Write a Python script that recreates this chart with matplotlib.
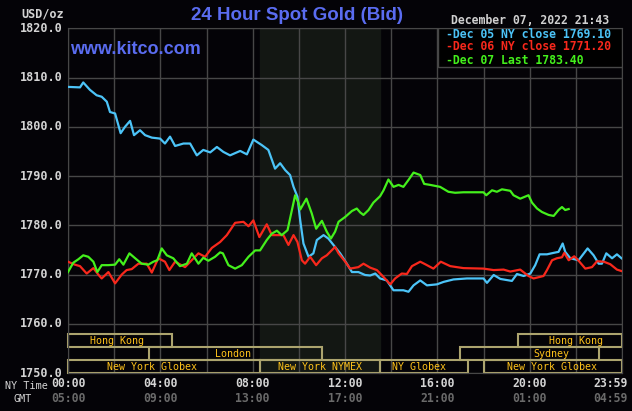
import matplotlib
matplotlib.use("Agg")
import matplotlib.pyplot as plt
import matplotlib.transforms as mtransforms
from matplotlib.patches import Rectangle

# hours after midnight (NY time) and bid prices
dec05_h = [0, 0.52, 0.66, 0.95, 1.24, 1.46, 1.68, 1.82, 2.04, 2.28, 2.47, 2.69, 2.86, 3.12, 3.34, 3.63,
           3.99, 4.2, 4.42, 4.64, 5.0, 5.29, 5.58, 5.86, 6.16, 6.45, 6.73, 7.02, 7.46, 7.75, 8.03, 8.39,
           8.68, 8.97, 9.19, 9.41, 9.62, 9.77, 9.94, 10.06, 10.2, 10.42, 10.63, 10.78, 11.07, 11.28, 11.5,
           11.79, 12.08, 12.3, 12.58, 12.87, 13.09, 13.31, 13.52, 13.81, 14.1, 14.32, 14.53, 14.75, 14.97,
           15.26, 15.55, 15.98, 16.27, 16.7, 17.28, 18.0, 18.15, 18.44, 18.73, 19.23, 19.45, 19.74, 20.03,
           20.24, 20.43, 20.75, 21.04, 21.25, 21.43, 21.54, 21.76, 22.12, 22.51, 22.77, 22.99, 23.13, 23.32,
           23.57, 23.78, 23.98]
dec05_p = [1808.1, 1808.0, 1809.0, 1807.5, 1806.4, 1806.1, 1805.1, 1803.0, 1802.7, 1798.7, 1800.0, 1801.2,
           1798.3, 1799.3, 1798.3, 1797.8, 1797.6, 1796.6, 1798.0, 1796.1, 1796.6, 1796.6, 1794.2, 1795.3,
           1794.8, 1795.9, 1794.9, 1794.2, 1795.1, 1794.4, 1797.4, 1796.3, 1795.3, 1791.5, 1792.6, 1791.2,
           1790.2, 1787.8, 1785.8, 1781.0, 1776.3, 1773.6, 1774.3, 1777.0, 1778.0, 1777.3, 1776.0, 1774.3,
           1772.2, 1770.5, 1770.5, 1769.9, 1769.8, 1770.2, 1769.2, 1768.8, 1766.8, 1766.8, 1766.8, 1766.5,
           1767.8, 1768.8, 1767.8, 1768.0, 1768.5, 1769.0, 1769.2, 1769.2, 1768.3, 1769.9, 1769.1, 1768.7,
           1770.1, 1769.7, 1770.2, 1771.9, 1774.1, 1774.1, 1774.4, 1774.6, 1776.3, 1774.6, 1773.3, 1772.9,
           1775.3, 1773.9, 1772.2, 1772.2, 1774.3, 1773.3, 1774.1, 1773.3]

dec06_h = [0, 0.3, 0.52, 0.81, 1.1, 1.31, 1.46, 1.75, 2.04, 2.33, 2.54, 2.76, 3.05, 3.41, 3.63, 3.91, 4.2,
           4.39, 4.64, 5.07, 5.36, 5.65, 5.94, 6.23, 6.59, 6.88, 7.24, 7.6, 7.82, 8.03, 8.29, 8.61, 8.83,
           9.05, 9.33, 9.55, 9.77, 9.94, 10.13, 10.27, 10.49, 10.75, 11.0, 11.21, 11.57, 11.72, 12.01,
           12.22, 12.58, 12.8, 13.09, 13.38, 13.67, 13.96, 14.17, 14.46, 14.68, 14.9, 15.26, 15.47, 15.83,
           16.15, 16.56, 17.13, 18.0, 18.44, 18.87, 19.16, 19.59, 19.81, 19.95, 20.17, 20.6, 20.75, 20.97,
           21.18, 21.4, 21.5, 21.69, 21.93, 22.12, 22.41, 22.7, 22.92, 23.21, 23.49, 23.78, 23.98]
dec06_p = [1772.6, 1772.0, 1771.7, 1770.2, 1771.3, 1770.0, 1769.2, 1770.5, 1768.2, 1770.0, 1770.9, 1771.1,
           1772.2, 1772.2, 1770.4, 1773.3, 1772.6, 1770.9, 1772.6, 1771.5, 1772.9, 1774.3, 1773.6, 1775.4,
           1776.6, 1778.0, 1780.5, 1780.7, 1779.8, 1781.0, 1777.6, 1780.2, 1778.0, 1778.0, 1778.0, 1776.0,
           1778.0, 1776.6, 1772.9, 1772.2, 1773.6, 1771.9, 1773.3, 1773.9, 1775.6, 1774.3, 1772.6, 1771.2,
           1771.5, 1772.2, 1771.4, 1770.9, 1769.5, 1768.0, 1769.2, 1770.2, 1770.1, 1771.7, 1772.6, 1772.1,
           1771.2, 1772.6, 1771.7, 1771.3, 1771.2, 1770.9, 1771.0, 1770.6, 1771.0, 1770.2, 1769.7, 1769.2,
           1769.7, 1770.9, 1772.9, 1773.3, 1773.5, 1774.4, 1772.9, 1773.7, 1772.8, 1771.2, 1771.5, 1772.7,
           1772.6, 1772.1, 1771.0, 1770.7]

dec07_h = [0, 0.23, 0.45, 0.66, 0.88, 1.1, 1.27, 1.46, 1.75, 2.04, 2.22, 2.4, 2.66, 2.91, 3.19, 3.48, 3.7,
           3.87, 4.06, 4.28, 4.56, 4.85, 5.15, 5.36, 5.65, 5.86, 6.08, 6.37, 6.59, 6.71, 6.95, 7.24, 7.53,
           7.82, 8.11, 8.32, 8.61, 8.83, 9.05, 9.26, 9.51, 9.7, 9.84, 9.98, 10.06, 10.33, 10.56, 10.75,
           11.0, 11.21, 11.39, 11.57, 11.72, 12.01, 12.3, 12.51, 12.66, 12.8, 13.02, 13.23, 13.52, 13.67,
           13.88, 14.1, 14.32, 14.53, 14.75, 14.97, 15.26, 15.43, 15.69, 16.12, 16.48, 16.77, 17.13, 18.0,
           18.12, 18.37, 18.58, 18.8, 19.16, 19.3, 19.59, 19.95, 20.1, 20.32, 20.53, 20.82, 21.04, 21.25,
           21.4, 21.54, 21.69]
dec07_p = [1770.5, 1772.4, 1773.1, 1773.9, 1773.6, 1772.6, 1770.5, 1771.9, 1771.9, 1772.0, 1773.1, 1772.0,
           1774.3, 1773.3, 1772.2, 1772.0, 1772.6, 1772.9, 1775.3, 1773.9, 1773.3, 1771.7, 1772.2, 1774.3,
           1772.2, 1773.4, 1772.8, 1773.6, 1774.5, 1774.3, 1771.9, 1771.2, 1771.9, 1773.6, 1774.9, 1774.9,
           1777.0, 1778.3, 1778.9, 1778.0, 1779.0, 1783.1, 1786.1, 1784.6, 1783.2, 1785.4, 1782.4, 1779.3,
           1780.9, 1778.7, 1777.3, 1778.7, 1780.7, 1781.7, 1782.9, 1783.4, 1782.6, 1782.1, 1783.1, 1784.6,
           1785.9, 1787.1, 1789.3, 1787.8, 1788.2, 1787.8, 1789.2, 1790.7, 1790.2, 1788.4, 1788.2, 1787.8,
           1786.8, 1786.6, 1786.7, 1786.7, 1786.1, 1787.1, 1786.8, 1787.3, 1787.0, 1786.1, 1785.4, 1786.1,
           1784.6, 1783.4, 1782.7, 1782.1, 1781.9, 1783.1, 1783.7, 1783.1, 1783.3]

legend_labels = ["Dec 05 NY close 1769.10", "Dec 06 NY close 1771.20", "Dec 07 Last 1783.40"]

y_ticks = [1750, 1760, 1770, 1780, 1790, 1800, 1810, 1820]
ny_hours = [0, 4, 8, 12, 16, 20]
ny_labels = ["00:00", "04:00", "08:00", "12:00", "16:00", "20:00", "23:59"]
gmt_labels = ["05:00", "09:00", "13:00", "17:00", "21:00", "01:00", "04:59"]

# trading sessions: name, start, end (NY hours), row (0 = top)
sess_name = ["Hong Kong", "London", "New York Globex", "New York NYMEX", "NY Globex",
             "New York Globex", "Sydney", "Hong Kong"]
sess_start = [0, 3.5, 0, 8.333, 13.5, 18.0, 17.0, 19.5]
sess_end = [4.5, 11.0, 8.333, 13.5, 17.33, 24.0, 23.0, 24.0]
sess_row = [0, 1, 2, 2, 2, 2, 1, 0]
sess_text_x = [2.14, 7.15, 3.64, 10.9, 15.2, 20.97, 20.94, 22.02]

BG = "#040307"
GRID = "#474747"
BLUE, RED, GREEN = "#4cc4f8", "#f8281c", "#44f01c"
MONO = "DejaVu Sans Mono"

W, H = 632, 411
fig = plt.figure(figsize=(W / 100, H / 100), dpi=100, facecolor=BG)
ax = fig.add_axes([68 / W, 1 - 373 / H, 554 / W, 344.7 / H], facecolor=BG)
ax.set_xlim(0, 24)
ax.set_ylim(1750, 1820)
ax.set_xticks(range(0, 25, 2))
ax.set_yticks(y_ticks)
ax.grid(True, color=GRID, lw=1.0)
ax.set_axisbelow(True)
ax.tick_params(length=0, labelleft=False, labelbottom=False)
for s in ax.spines.values():
    s.set_color(GRID)

# NYMEX pit hours shading
ax.axvspan(8.333, 13.5, color="#131713", zorder=0.5)

ax.plot(dec05_h, dec05_p, color=BLUE, lw=1.6, zorder=3)
ax.plot(dec06_h, dec06_p, color=RED, lw=1.6, zorder=3)
ax.plot(dec07_h, dec07_p, color=GREEN, lw=1.6, zorder=3)

# session boxes
row_h = 2.62
for name, a, b, r, tx in zip(sess_name, sess_start, sess_end, sess_row, sess_text_x):
    y0 = 1750 + (2 - r) * row_h
    ax.add_patch(Rectangle((a, y0), b - a, row_h, fill=False, ec="#aca46e", lw=1.5, zorder=2,
                           clip_on=False))
    ax.text(tx, y0 + row_h / 2, name, color="#ffc21a", family=MONO, fontsize=7.2,
            ha="center", va="center", zorder=4)

# legend box
ax.add_patch(Rectangle((0.667, 0.889), 0.333, 0.111, transform=ax.transAxes, fc="#000000",
                       ec=GRID, lw=1.0, zorder=4))
for i, (lab, c) in enumerate(zip(legend_labels, [BLUE, RED, GREEN])):
    fig.text(446 / W, 1 - (34 + 13 * i) / H, "-" + lab, color=c, family=MONO,
             fontsize=8.3, fontweight="bold", ha="left", va="center", zorder=5)

# axis labels
ytr = mtransforms.blended_transform_factory(ax.transAxes, ax.transData)
for v in y_ticks:
    ax.text(-0.009, v, f"{v:.1f}", transform=ytr, color="#d4d4d4", family=MONO,
            fontsize=8.5, fontweight="bold", ha="right", va="center")

xtr = mtransforms.blended_transform_factory(ax.transData, ax.transAxes)
for h, a, g in zip(ny_hours + [23.5], ny_labels, gmt_labels):
    ax.text(h, -0.030, a, transform=xtr, color="#d4d4d4", family=MONO, fontsize=8.3,
            fontweight="bold", ha="center", va="center")
    ax.text(h, -0.074, g, transform=xtr, color="#6a6a6a", family=MONO, fontsize=8.3,
            fontweight="bold", ha="center", va="center")

fig.text(5 / W, 1 - 386 / H, "NY Time", color="#d4d4d4", family=MONO, fontsize=7.3,
         ha="left", va="center")
fig.text(14 / W, 1 - 398.5 / H, "GMT", color="#d4d4d4", family=MONO, fontsize=7.3,
         ha="left", va="center")
fig.text(43 / W, 1 - 14 / H, "USD/oz", color="#d4d4d4", family=MONO, fontsize=8.5,
         fontweight="bold", ha="center", va="center")

fig.text(297 / W, 1 - 16 / H, "24 Hour Spot Gold (Bid)", color="#5a6cf0",
         family="Liberation Sans", fontsize=13.5, fontweight="bold", ha="center", va="center")
ax.text(70 / W, 1 - 50 / H, "www.kitco.com", transform=fig.transFigure, color="#5a6cf0",
        family="Liberation Sans", fontsize=13, fontweight="bold", ha="left", va="center", zorder=5)
fig.text(530 / W, 1 - 21 / H, "December 07, 2022 21:43", color="#d0d0d0", family=MONO,
         fontsize=8.3, fontweight="bold", ha="center", va="center")

fig.savefig("out.png", dpi=100, facecolor=BG)
